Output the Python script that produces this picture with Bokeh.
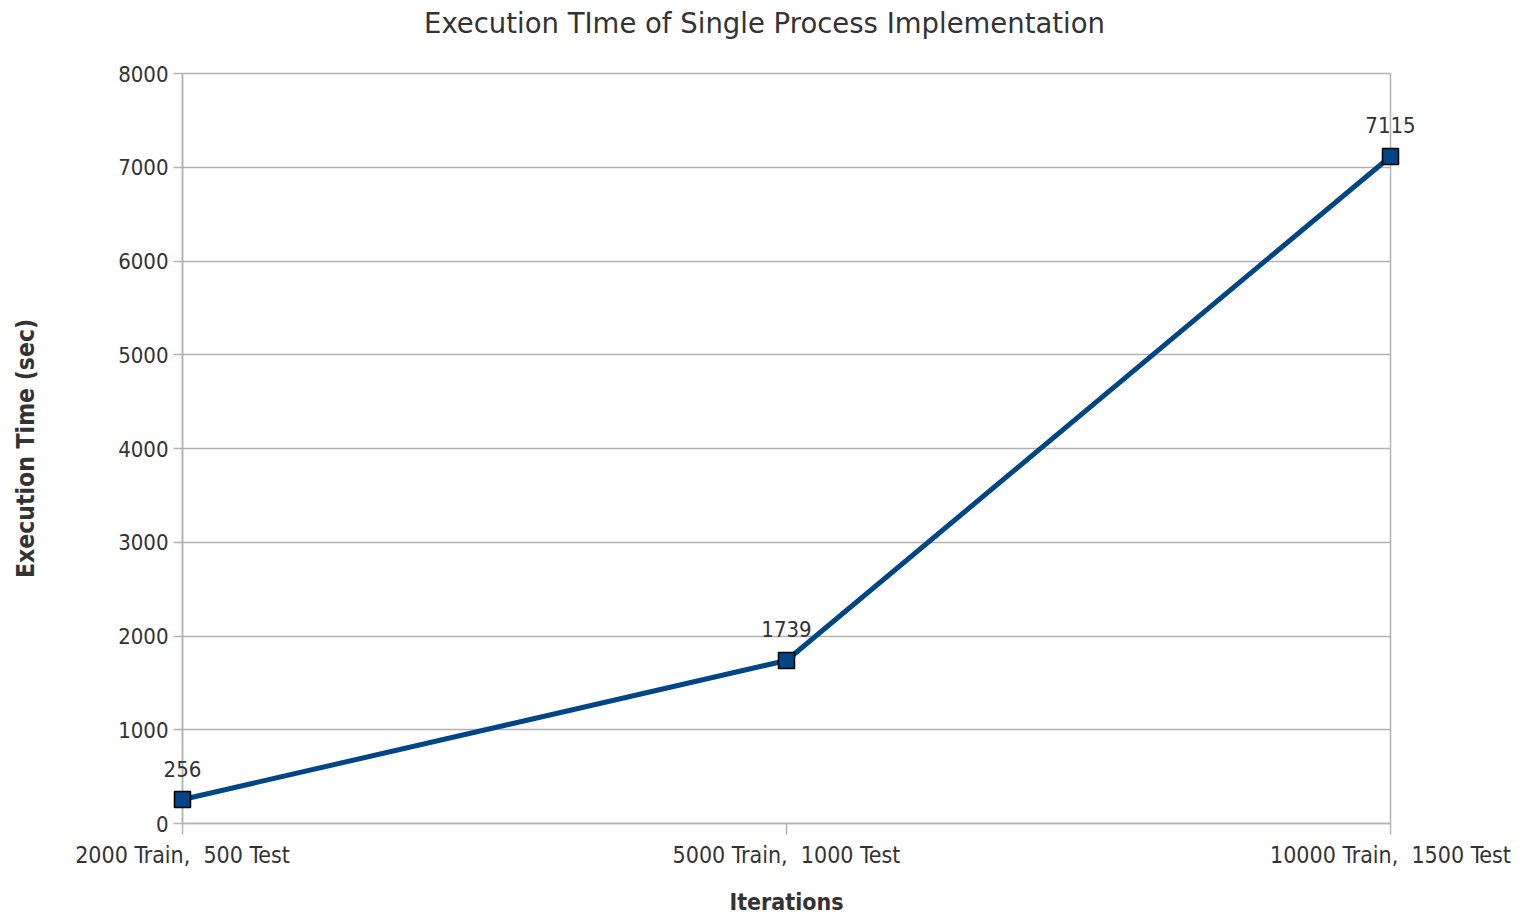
from bokeh.plotting import figure
from bokeh.models import Range1d, FixedTicker, ColumnDataSource
from bokeh.core.properties import value
from bokeh.embed import file_html
from bokeh.resources import INLINE

# Workload sizes and measured execution times (seconds)
categories = ["2000 Train,\u00a0 500 Test", "5000 Train,\u00a0 1000 Test", "10000 Train,\u00a0 1500 Test"]
exec_time = [256, 1739, 7115]
y_ticks = [0, 1000, 2000, 3000, 4000, 5000, 6000, 7000, 8000]
title_text = "Execution TIme of Single Process Implementation"

FONT = "DejaVu Sans Condensed"
TITLE_FONT = "DejaVu Sans"
TEXT = "#333333"
GRID = "#b3b3b3"
LINE = "#004586"

xs = list(range(len(categories)))
src = ColumnDataSource(dict(x=xs, y=exec_time, label=[str(v) for v in exec_time]))

x_range = Range1d(0, len(categories) - 1)
y_range = Range1d(0, y_ticks[-1])

p = figure(
    width=1527, height=916,
    x_range=x_range, y_range=y_range,
    output_backend="svg", toolbar_location=None,
    min_border_left=182, min_border_right=137,
    min_border_top=73, min_border_bottom=93,
)
p.frame_width = 1208
p.frame_height = 750

p.outline_line_color = GRID
p.outline_line_width = 1.5
p.background_fill_color = "white"
p.border_fill_color = "white"

# chart title: anchored at the top-centre of the frame, shifted up into the border
p.text(x=[(x_range.start + x_range.end) / 2], y=[y_range.end], text=[title_text],
       x_offset=-22, y_offset=-51, text_align="center", text_baseline="middle",
       level="overlay", text_font=value(TITLE_FONT), text_font_size="27.5px",
       text_color=TEXT)

# grid
p.xgrid.grid_line_color = None
p.ygrid.ticker = FixedTicker(ticks=y_ticks)
p.ygrid.grid_line_color = GRID
p.ygrid.grid_line_width = 1.5

# x axis
xa = p.xaxis[0]
xa.ticker = FixedTicker(ticks=xs)
xa.major_label_overrides = {i: c for i, c in enumerate(categories)}
xa.axis_line_color = GRID
xa.axis_line_width = 1.5
xa.major_tick_line_color = GRID
xa.major_tick_line_width = 1.5
xa.major_tick_in = 0
xa.major_tick_out = 11
xa.minor_tick_line_color = None
xa.major_label_text_font = FONT
xa.major_label_text_font_size = "23px"
xa.major_label_text_color = TEXT
xa.major_label_standoff = 7
xa.axis_label = "Iterations"
xa.axis_label_text_font = FONT
xa.axis_label_text_font_size = "23px"
xa.axis_label_text_font_style = "bold"
xa.axis_label_text_color = TEXT
xa.axis_label_standoff = 18

# y axis
ya = p.yaxis[0]
ya.ticker = FixedTicker(ticks=y_ticks)
ya.axis_line_color = GRID
ya.axis_line_width = 1.5
ya.major_tick_line_color = GRID
ya.major_tick_line_width = 1.5
ya.major_tick_in = 0
ya.major_tick_out = 9
ya.minor_tick_line_color = None
ya.major_label_text_font = FONT
ya.major_label_text_font_size = "22px"
ya.major_label_text_color = TEXT
ya.major_label_standoff = 5
ya.axis_label = "Execution Time (sec)"
ya.axis_label_text_font = FONT
ya.axis_label_text_font_size = "24.5px"
ya.axis_label_text_font_style = "bold"
ya.axis_label_text_color = TEXT
ya.axis_label_standoff = 75

# series (drawn above the frame clip so the end markers are not cut)
p.line("x", "y", source=src, line_color=LINE, line_width=5, level="overlay")
p.scatter("x", "y", source=src, marker="square", size=16,
          fill_color=LINE, line_color="black", line_width=1.5, level="overlay")
p.text("x", "y", text="label", source=src, text_align="center",
       text_baseline="bottom", y_offset=-23, level="overlay",
       text_font=value(FONT), text_font_size="22px", text_color=TEXT)

open("out.html", "w").write(file_html(p, INLINE))
